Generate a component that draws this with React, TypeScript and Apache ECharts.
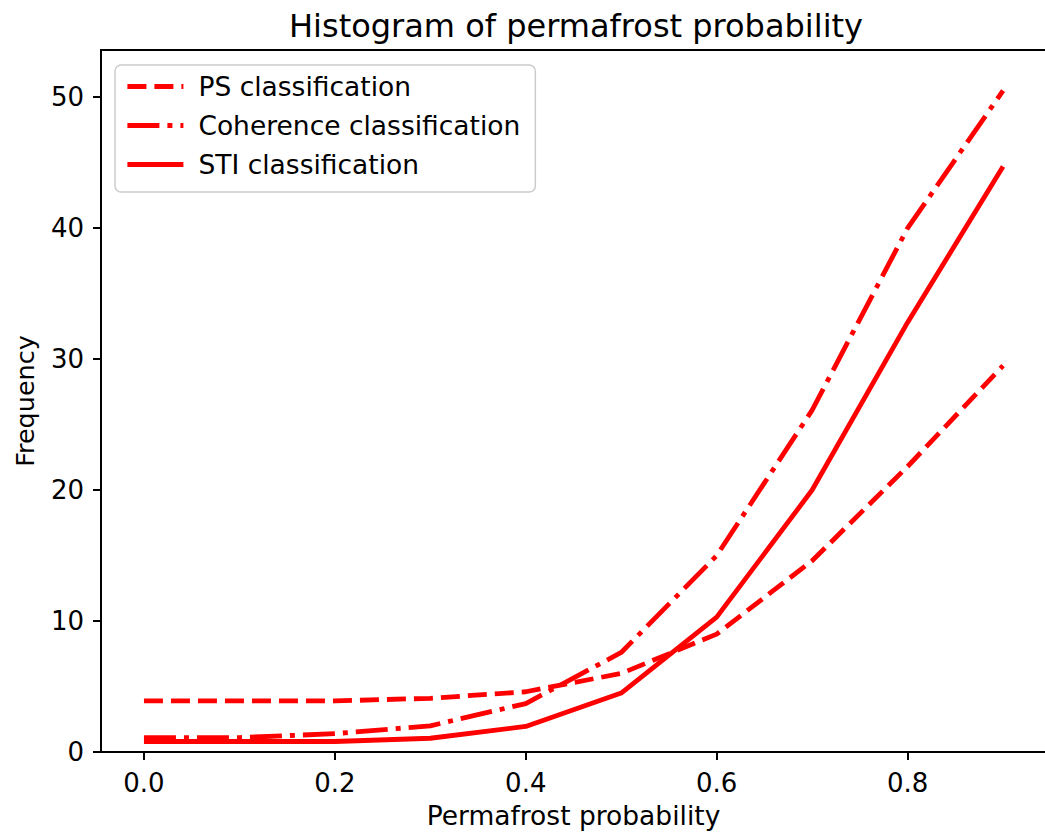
import React, { useEffect, useRef } from "react";
import * as echarts from "echarts";

// Permafrost probability bins (left edges) and frequencies per classification
const probability = [0.0, 0.1, 0.2, 0.3, 0.4, 0.5, 0.6, 0.7, 0.8, 0.9];
const psFrequency = [3.9, 3.9, 3.9, 4.1, 4.6, 6.0, 9.0, 14.6, 21.8, 29.5];
const coherenceFrequency = [1.1, 1.1, 1.4, 2.0, 3.7, 7.6, 15.0, 26.1, 40.0, 50.5];
const stiFrequency = [0.8, 0.8, 0.8, 1.05, 1.95, 4.5, 10.3, 20.0, 32.8, 44.7];

const xTicks = [0.0, 0.2, 0.4, 0.6, 0.8];
const yTicks = [0, 10, 20, 30, 40, 50];

const seriesNames = ["PS classification", "Coherence classification", "STI classification"];

const RED = "#ff0000";
const FONT = "DejaVu Sans";
const LINE_WIDTH = 4.8;
const DASHED = [19, 8];
const DASH_DOT = [32, 8, 5, 8];

const pairs = (ys: number[]) => probability.map((x, i) => [x, ys[i]]);

export default function App() {
  const ref = useRef<HTMLDivElement>(null);

  useEffect(() => {
    if (!ref.current) return;
    const chart = echarts.init(ref.current, undefined, { renderer: "svg" });

    const lineSeries = (name: string, ys: number[], dash: any) => ({
      name,
      type: "line",
      data: pairs(ys),
      symbol: "none",
      showSymbol: false,
      lineStyle: { color: RED, width: LINE_WIDTH, type: dash, cap: "butt", join: "round" },
      itemStyle: { color: RED },
      z: 3,
    });

    const legendItem = (name: string, dash: any) => ({
      name,
      itemStyle: { color: "transparent", borderWidth: 0, opacity: 0 },
      lineStyle: { color: RED, width: LINE_WIDTH, type: dash, cap: "butt" },
    });

    chart.setOption({
      animation: false,
      backgroundColor: "#ffffff",
      title: {
        text: "Histogram of permafrost probability",
        left: 571,
        top: 5,
        textAlign: "center",
        textStyle: { fontFamily: FONT, fontSize: 32, fontWeight: "normal", color: "#000000" },
      },
      grid: {
        left: 101,
        top: 50,
        right: 4,
        bottom: 82,
        show: true,
        borderColor: "#000000",
        borderWidth: 2,
        backgroundColor: "transparent",
        containLabel: false,
        outerBoundsMode: "none",
      },
      legend: {
        orient: "vertical",
        left: 115,
        top: 65,
        data: [
          legendItem(seriesNames[0], DASHED),
          legendItem(seriesNames[1], DASH_DOT),
          legendItem(seriesNames[2], "solid"),
        ],
        itemWidth: 56,
        itemHeight: 14,
        itemGap: 12,
        padding: [8, 15, 14, 10],
        backgroundColor: "rgba(255,255,255,0.85)",
        borderColor: "#cccccc",
        borderWidth: 1.5,
        borderRadius: 6,
        textStyle: {
          fontFamily: FONT,
          fontSize: 26.5,
          color: "#000000",
          padding: [0, 0, 0, 10],
        },
      },
      xAxis: {
        type: "value",
        min: -0.045,
        max: 0.945,
        name: "Permafrost probability",
        nameLocation: "middle",
        nameGap: 50,
        nameTextStyle: { fontFamily: FONT, fontSize: 26.5, color: "#000000" },
        axisLine: { show: true, onZero: false, lineStyle: { color: "#000000", width: 2 } },
        axisTick: {
          show: true,
          length: 8,
          customValues: xTicks,
          lineStyle: { color: "#000000", width: 2 },
        },
        axisLabel: {
          customValues: xTicks,
          margin: 18,
          fontFamily: FONT,
          fontSize: 26,
          color: "#000000",
          formatter: (v: number) => v.toFixed(1),
        },
        splitLine: { show: false },
      },
      yAxis: {
        type: "value",
        min: 0,
        max: 53.6,
        name: "Frequency",
        nameLocation: "middle",
        nameGap: 63,
        nameRotate: 90,
        nameTextStyle: { fontFamily: FONT, fontSize: 25.5, color: "#000000" },
        axisLine: { show: true, onZero: false, lineStyle: { color: "#000000", width: 2 } },
        axisTick: {
          show: true,
          length: 8,
          customValues: yTicks,
          lineStyle: { color: "#000000", width: 2 },
        },
        axisLabel: {
          customValues: yTicks,
          margin: 17,
          fontFamily: FONT,
          fontSize: 26,
          color: "#000000",
          formatter: (v: number) => String(Math.round(v)),
        },
        splitLine: { show: false },
      },
      series: [
        lineSeries(seriesNames[0], psFrequency, DASHED),
        lineSeries(seriesNames[1], coherenceFrequency, DASH_DOT),
        lineSeries(seriesNames[2], stiFrequency, "solid"),
      ],
    });

    return () => chart.dispose();
  }, []);

  return (
    <div
      style={{
        position: "fixed",
        left: 0,
        top: 0,
        width: 1045,
        height: 834,
        overflow: "hidden",
        background: "#ffffff",
      }}
    >
      <div ref={ref} style={{ width: 1050, height: 834 }} />
    </div>
  );
}
